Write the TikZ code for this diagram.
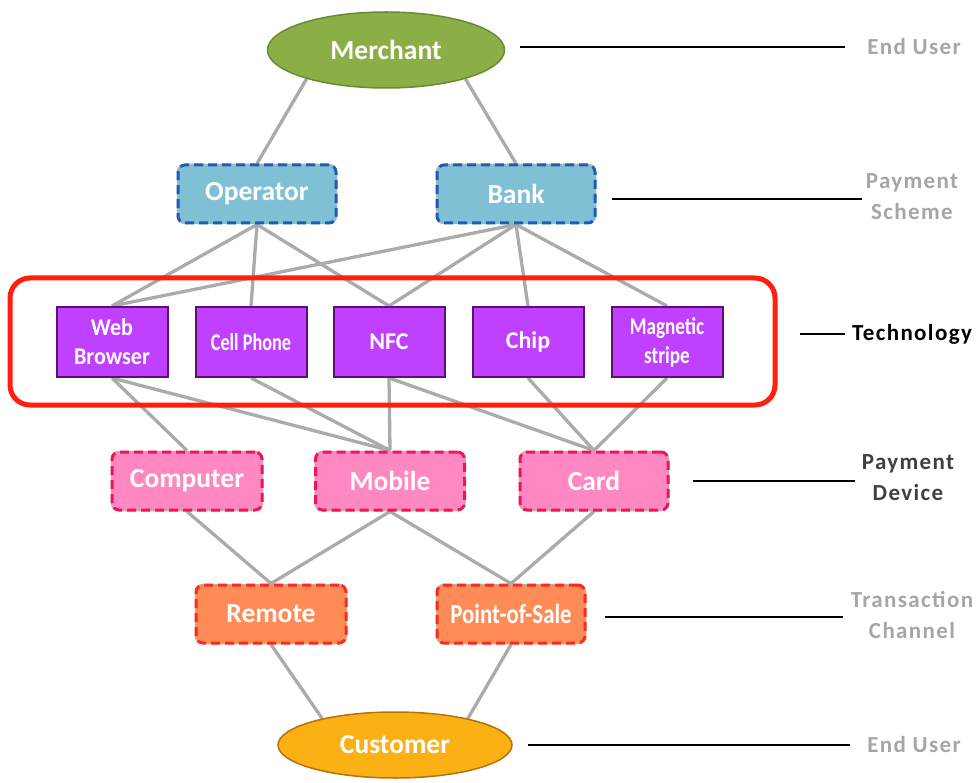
\documentclass[tikz,border=0pt]{standalone}
\usepackage{fontspec}
\setmainfont{Carlito}
\newfontfamily\lblfont[LetterSpace=6]{Carlito}
\usetikzlibrary{shapes.geometric,backgrounds}
\definecolor{edgegray}{HTML}{ABABAB}
\definecolor{merchfill}{HTML}{8BAE46}
\definecolor{merchdraw}{HTML}{6A8A32}
\definecolor{blufill}{HTML}{80C0D4}
\definecolor{bludraw}{HTML}{1F5DB5}
\definecolor{purfill}{HTML}{C040FF}
\definecolor{purdraw}{HTML}{5E1070}
\definecolor{pinkfill}{HTML}{FF88C2}
\definecolor{pinkdraw}{HTML}{F0145A}
\definecolor{orfill}{HTML}{FF8C57}
\definecolor{ordraw}{HTML}{FF2A1A}
\definecolor{custfill}{HTML}{FBB114}
\definecolor{custdraw}{HTML}{B5720A}
\definecolor{framered}{HTML}{FF1F0F}
\definecolor{lgray}{HTML}{A6A6A6}
\definecolor{dgray}{HTML}{404040}
\begin{document}
\begin{tikzpicture}[x=1pt,y=-1pt,
  edge/.style={draw=edgegray, line width=3.3pt},
  ellnode/.style={ellipse, line width=1.5pt, inner sep=0pt, text=white,
    font=\fontsize{27.5}{30}\selectfont\bfseries},
  dbox/.style={rectangle, rounded corners=7pt, inner sep=0pt, text=white,
    line width=3pt, dash pattern=on 9pt off 5pt,
    preaction={draw=black!30, line width=2.5pt, solid},
    font=\fontsize{27.5}{30}\selectfont\bfseries},
  pbox/.style={rectangle, inner sep=0pt, text=white, fill=purfill, draw=purdraw,
    line width=2pt, minimum width=111pt, minimum height=70pt, align=center,
    font=\fontsize{24}{29}\selectfont\bfseries},
  lbl/.style={inner sep=0pt, align=center,
    font=\lblfont\bfseries\fontsize{23}{31}\selectfont},
  lblline/.style={draw=black, line width=2pt}
]
\useasboundingbox (0,0) rectangle (979,783);

% top end user
\node[ellnode, fill=merchfill, draw=merchdraw, minimum width=237pt, minimum height=76pt] (merchant) at (386,50) {Merchant};

% payment scheme
\node[dbox, fill=blufill, draw=bludraw, minimum width=158pt, minimum height=58pt] (operator) at (257,194) {Operator};
\node[dbox, fill=blufill, draw=bludraw, minimum width=158pt, minimum height=58pt] (bank) at (516,194) {Bank};

% technology
\node[pbox] (web) at (112,342) {\scalebox{0.92}[1]{Web}\\\scalebox{0.92}[1]{Browser}};
\node[pbox] (cell) at (251,342) {\scalebox{0.76}[1]{Cell Phone}};
\node[pbox] (nfc) at (389,342) {NFC};
\node[pbox] (chip) at (528,342) {Chip};
\node[pbox] (mag) at (667,342) {\scalebox{0.8}[1]{Magnetic}\\\scalebox{0.8}[1]{stripe}};
\node[draw=framered, line width=5pt, rounded corners=20pt, minimum width=765pt, minimum height=127pt, inner sep=0pt] (techframe) at (392.5,341.5) {};

% payment device
\node[dbox, fill=pinkfill, draw=pinkdraw, minimum width=150pt, minimum height=58pt] (computer) at (187,481) {Computer};
\node[dbox, fill=pinkfill, draw=pinkdraw, minimum width=149pt, minimum height=58pt] (mobile) at (390,481) {Mobile};
\node[dbox, fill=pinkfill, draw=pinkdraw, minimum width=148pt, minimum height=58pt] (card) at (594,481) {Card};

% transaction channel
\node[dbox, fill=orfill, draw=ordraw, minimum width=150pt, minimum height=58pt] (remote) at (271,614) {Remote};
\node[dbox, fill=orfill, draw=ordraw, minimum width=148pt, minimum height=58pt] (pos) at (511,614) {\scalebox{0.83}[1]{Point-of-Sale}};

% bottom end user
\node[ellnode, fill=custfill, draw=custdraw, minimum width=234pt, minimum height=66pt] (customer) at (395,745) {Customer};

% connectors
\begin{scope}[on background layer]
\draw[edge] (merchant.200) -- (operator.north);
\draw[edge] (merchant.340) -- (bank.north);
\draw[edge] (operator.south) -- (web.north);
\draw[edge] (operator.south) -- (cell.north);
\draw[edge] (operator.south) -- (nfc.north);
\draw[edge] (bank.south) -- (web.north);
\draw[edge] (bank.south) -- (nfc.north);
\draw[edge] (bank.south) -- (chip.north);
\draw[edge] (bank.south) -- (mag.north);
\draw[edge] (web.south) -- (computer.north);
\draw[edge] (web.south) -- (mobile.north);
\draw[edge] (cell.south) -- (mobile.north);
\draw[edge] (nfc.south) -- (mobile.north);
\draw[edge] (nfc.south) -- (card.north);
\draw[edge] (chip.south) -- (card.north);
\draw[edge] (mag.south) -- (card.north);
\draw[edge] (computer.south) -- (remote.north);
\draw[edge] (mobile.south) -- (remote.north);
\draw[edge] (mobile.south) -- (pos.north);
\draw[edge] (card.south) -- (pos.north);
\draw[edge] (remote.south) -- (customer.160);
\draw[edge] (pos.south) -- (customer.20);
\end{scope}

% layer labels
\node[lbl, text=lgray] (l1) at (914,47) {End User};
\node[lbl, text=lgray] (l2) at (912,197) {Payment\\Scheme};
\node[lbl, text=black] (l3) at (912,334) {Technology};
\node[lbl, text=dgray] (l4) at (908,478) {Payment\\Device};
\node[lbl, text=lgray] (l5) at (912,615) {Transaction\\Channel};
\node[lbl, text=lgray] (l6) at (914,745) {End User};

\coordinate (a1) at (520,47);  \coordinate (b1) at (845,47);
\coordinate (a2) at (612,199); \coordinate (b2) at (862,199);
\coordinate (a3) at (800,334); \coordinate (b3) at (845,334);
\coordinate (a4) at (693,481); \coordinate (b4) at (855,481);
\coordinate (a5) at (605,617); \coordinate (b5) at (843,617);
\coordinate (a6) at (528,745); \coordinate (b6) at (850,745);
\draw[lblline] (a1) -- (b1);
\draw[lblline] (a2) -- (b2);
\draw[lblline] (a3) -- (b3);
\draw[lblline] (a4) -- (b4);
\draw[lblline] (a5) -- (b5);
\draw[lblline] (a6) -- (b6);
\end{tikzpicture}
\end{document}
